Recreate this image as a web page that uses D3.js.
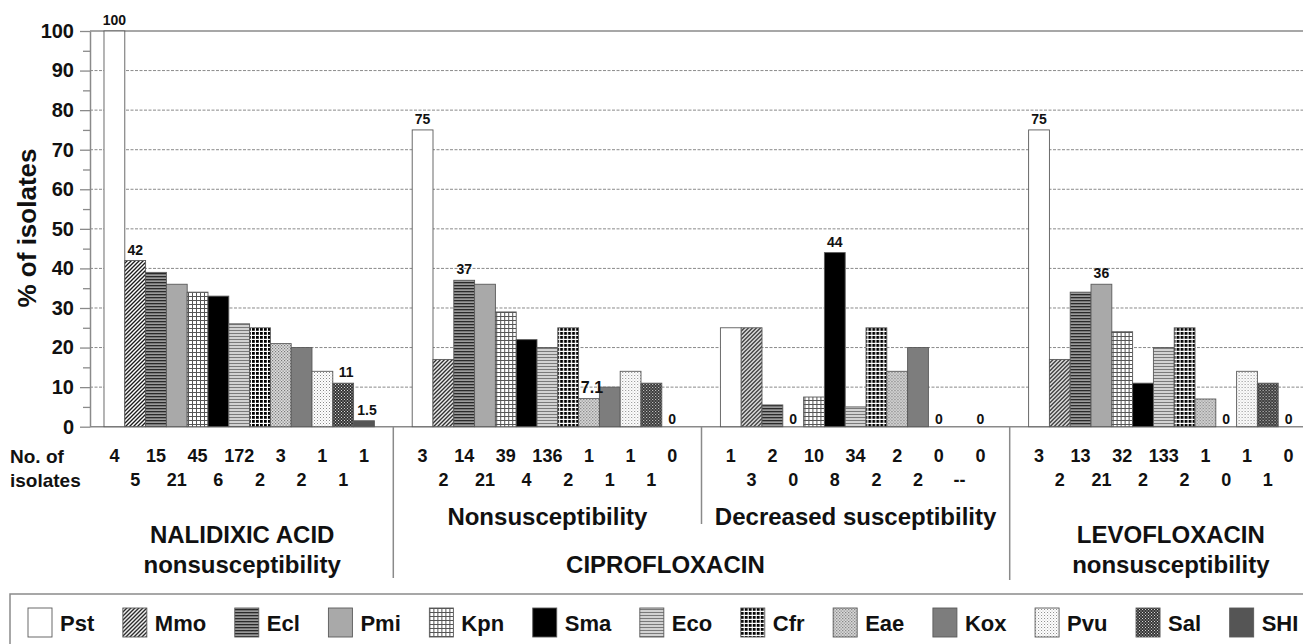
<!DOCTYPE html>
<html>
<head>
<meta charset="utf-8">
<script src="https://cdn.jsdelivr.net/npm/d3@7"></script>
<style>
  body { margin: 0; background: #fff; }
  text { font-family: "Liberation Sans", Arial, sans-serif; font-weight: bold; fill: #111; }
</style>
</head>
<body>
<div class="chart"></div>
<script>
// Data

var species = ["Pst", "Mmo", "Ecl", "Pmi", "Kpn", "Sma", "Eco", "Cfr", "Eae", "Kox", "Pvu", "Sal", "SHI"];
var groups = ["nal", "cipNS", "cipDS", "levo"];

var nalidixic = [100, 42, 39, 36, 34, 33, 26, 25, 21, 20, 14, 11, 1.5];
var cipNonsusc = [75, 17, 37, 36, 29, 22, 20, 25, 7.1, 10, 14, 11, 0];
var cipDecreased = [25, 25, 5.5, 0, 7.5, 44, 5, 25, 14, 20, 0, null, 0];
var levofloxacin = [75, 17, 34, 36, 24, 11, 20, 25, 7, 0, 14, 11, 0];

var nalCounts = [4, 5, 15, 21, 45, 6, 172, 2, 3, 2, 1, 1, 1];
var cipNSCounts = [3, 2, 14, 21, 39, 4, 136, 2, 1, 1, 1, 1, 0];
var cipDSCounts = [1, 3, 2, 0, 10, 8, 34, 2, 2, 2, 0, "--", 0];
var levoCounts = [3, 2, 13, 21, 32, 2, 133, 2, 1, 0, 1, 1, 0];

// which bars carry a value label
var nalLabels = ["Pst", "Mmo", "Sal", "SHI"];
var cipNSLabels = ["Pst", "Ecl", "Eae", "SHI"];
var cipDSLabels = ["Pmi", "Sma", "Pvu", "SHI"];
var levoLabels = ["Pst", "Pmi", "Kox", "SHI"];

var yTicks = [0, 10, 20, 30, 40, 50, 60, 70, 80, 90, 100];

var values = {nal: nalidixic, cipNS: cipNonsusc, cipDS: cipDecreased, levo: levofloxacin};
var counts = {nal: nalCounts, cipNS: cipNSCounts, cipDS: cipDSCounts, levo: levoCounts};
var labelled = {nal: nalLabels, cipNS: cipNSLabels, cipDS: cipDSLabels, levo: levoLabels};

var width = 1303, height = 644;
var axisX = 90, rightEdge = 1303;

var svg = d3.select('.chart')
    .append('svg')
        .attr('width', width)
        .attr('height', height)
        .style('display', 'block');

// ---- fill patterns
var defs = svg.append("defs");
function pattern(id, w, h, bg, draw) {
    var p = defs.append("pattern")
        .attr("id", id)
        .attr("patternUnits", "userSpaceOnUse")
        .attr("width", w)
        .attr("height", h);
    p.append("rect").attr("width", w).attr("height", h).attr("fill", bg);
    if (draw) draw(p);
}
pattern("p-mmo", 4, 4, "#fff", function(p) {
    p.append("path").attr("d", "M-1,1L1,-1M0,4L4,0M3,5L5,3")
        .attr("stroke", "#1a1a1a").attr("stroke-width", 1.35);
});
pattern("p-ecl", 4, 3, "#9a9a9a", function(p) {
    p.append("rect").attr("width", 4).attr("height", 1.3).attr("fill", "#2a2a2a");
});
pattern("p-kpn", 4, 4, "#fff", function(p) {
    p.append("path").attr("d", "M0,0.5H4M0.5,0V4")
        .attr("stroke", "#555").attr("stroke-width", 1);
});
pattern("p-eco", 4, 3, "#d2d2d2", function(p) {
    p.append("rect").attr("width", 4).attr("height", 1).attr("fill", "#7a7a7a");
});
pattern("p-cfr", 4, 4, "#fff", function(p) {
    p.append("rect").attr("width", 2.8).attr("height", 2.8).attr("fill", "#000");
});
pattern("p-eae", 3, 3, "#dedede", function(p) {
    p.append("rect").attr("width", 1.2).attr("height", 1.2).attr("fill", "#777");
    p.append("rect").attr("x", 1.5).attr("y", 1.5).attr("width", 1.2).attr("height", 1.2).attr("fill", "#777");
});
pattern("p-pvu", 3, 3, "#fff", function(p) {
    p.append("rect").attr("width", 1).attr("height", 1).attr("fill", "#888");
    p.append("rect").attr("x", 1.5).attr("y", 1.5).attr("width", 1).attr("height", 1).attr("fill", "#bbb");
});
pattern("p-sal", 3, 3, "#333", function(p) {
    p.append("rect").attr("width", 1).attr("height", 1).attr("fill", "#ddd");
    p.append("rect").attr("x", 1.5).attr("y", 1.5).attr("width", 1).attr("height", 1).attr("fill", "#ddd");
});

var fills = {
    Pst: "#fff", Mmo: "url(#p-mmo)", Ecl: "url(#p-ecl)", Pmi: "#a9a9a9",
    Kpn: "url(#p-kpn)", Sma: "#000", Eco: "url(#p-eco)", Cfr: "url(#p-cfr)",
    Eae: "url(#p-eae)", Kox: "#7d7d7d", Pvu: "url(#p-pvu)", Sal: "url(#p-sal)", SHI: "#555"
};

// ---- scales
var y = d3.scaleLinear()
    .domain([0, 100])
    .range([426.7, 31]);

var x0 = d3.scaleBand()
    .domain(groups)
    .range([85.1, 1317.9])
    .paddingInner(0.1227)
    .paddingOuter(0.0613);

var x1 = d3.scaleBand()
    .domain(species)
    .range([0, x0.bandwidth()]);

// ---- grid
var grid = svg.append("g");
grid.selectAll("line")
    .data(yTicks)
    .enter()
        .append("line")
        .attr("x1", axisX)
        .attr("x2", rightEdge)
        .attr("y1", function(d) { return y(d); })
        .attr("y2", function(d) { return y(d); })
        .attr("stroke", function(d) { return (d === 0 || d === 100) ? "#8a8a8a" : "#8a8a8a"; })
        .attr("stroke-width", function(d) { return (d === 0 || d === 100) ? 1.5 : 1; })
        .attr("stroke-dasharray", function(d) { return (d === 0 || d === 100) ? null : "3,1.5"; });

// ---- y axis
var yAxis = svg.append("g")
    .attr("transform", "translate(" + axisX + ",0)")
    .call(d3.axisLeft(y).tickValues(yTicks).tickSize(10).tickSizeOuter(0).tickPadding(6));
yAxis.selectAll("text").style("font-size", "20px").attr("fill", "#111");
yAxis.selectAll("line").attr("stroke", "#8a8a8a").attr("stroke-width", 1.3);
yAxis.select(".domain").attr("stroke", "#8a8a8a").attr("stroke-width", 1.5);

var yMinor = svg.append("g")
    .attr("transform", "translate(" + axisX + ",0)")
    .call(d3.axisLeft(y).tickValues(d3.range(5, 100, 10)).tickSize(7).tickFormat(""));
yMinor.selectAll("line").attr("stroke", "#8a8a8a").attr("stroke-width", 1.3);
yMinor.select(".domain").remove();

svg.append("text")
    .attr("transform", "translate(36,228) rotate(-90)")
    .attr("text-anchor", "middle")
    .style("font-size", "26px")
    .text("% of isolates");

// ---- bars
var groupG = svg.selectAll(".grp")
    .data(groups)
    .enter()
    .append("g")
        .attr("class", "grp")
        .attr("transform", function(g) { return "translate(" + x0(g) + ",0)"; });

groupG.selectAll("rect")
    .data(function(g) {
        return species.map(function(s, i) { return {s: s, v: values[g][i]}; })
            .filter(function(d) { return d.v !== null && d.v > 0; });
    })
    .enter()
        .append("rect")
        .attr("x", function(d) { return x1(d.s); })
        .attr("width", x1.bandwidth())
        .attr("y", function(d) { return y(d.v); })
        .attr("height", function(d) { return y(0) - y(d.v); })
        .attr("fill", function(d) { return fills[d.s]; })
        .attr("stroke", "#5a5a5a")
        .attr("stroke-width", 0.9);

groupG.selectAll(".vlab")
    .data(function(g) {
        return species.map(function(s, i) { return {s: s, v: values[g][i]}; })
            .filter(function(d) { return labelled[g].indexOf(d.s) >= 0; });
    })
    .enter()
        .append("text")
        .attr("class", "vlab")
        .attr("x", function(d) { return x1(d.s) + x1.bandwidth() / 2 + (d.v < 20 && d.v > 0 ? 3 : 0); })
        .attr("y", function(d) { return d.v === 0 ? y(0) - 3 : y(d.v) - 6; })
        .attr("text-anchor", "middle")
        .style("font-size", function(d) { return d.v === 7.1 ? "16px" : "14px"; })
        .text(function(d) { return d.v; });

// ---- number of isolates table
svg.append("text").attr("x", 10).attr("y", 463).style("font-size", "19px").text("No. of");
svg.append("text").attr("x", 10).attr("y", 487).style("font-size", "19px").text("isolates");

groupG.selectAll(".cnt")
    .data(function(g) {
        return species.map(function(s, i) { return {s: s, n: counts[g][i], row: i % 2}; });
    })
    .enter()
        .append("text")
        .attr("class", "cnt")
        .attr("x", function(d) { return x1(d.s) + x1.bandwidth() / 2; })
        .attr("y", function(d) { return d.row === 0 ? 462 : 486; })
        .attr("text-anchor", "middle")
        .style("font-size", "18px")
        .text(function(d) { return d.n; });

// ---- separators between the panels
var sepData = [
    {x: (x0("nal") + x0.bandwidth() + x0("cipNS")) / 2, bottom: 578},
    {x: (x0("cipNS") + x0.bandwidth() + x0("cipDS")) / 2, bottom: 524},
    {x: (x0("cipDS") + x0.bandwidth() + x0("levo")) / 2, bottom: 580}
];
svg.selectAll(".sep")
    .data(sepData)
    .enter()
        .append("line")
        .attr("x1", function(d) { return d.x; })
        .attr("x2", function(d) { return d.x; })
        .attr("y1", y(0))
        .attr("y2", function(d) { return d.bottom; })
        .attr("stroke", "#8a8a8a")
        .attr("stroke-width", 1.5);

// ---- panel titles
var gc = function(g) { return x0(g) + x0.bandwidth() / 2; };
var titles = [
    {t: "NALIDIXIC ACID", x: gc("nal") + 3, y: 543},
    {t: "nonsusceptibility", x: gc("nal") + 3, y: 573},
    {t: "Nonsusceptibility", x: gc("cipNS"), y: 525},
    {t: "Decreased susceptibility", x: gc("cipDS"), y: 525},
    {t: "CIPROFLOXACIN", x: gc("cipNS") + 118, y: 573},
    {t: "LEVOFLOXACIN", x: gc("levo") + 7, y: 543},
    {t: "nonsusceptibility", x: gc("levo") + 7, y: 573}
];
svg.selectAll(".ttl")
    .data(titles)
    .enter()
        .append("text")
        .attr("class", "ttl")
        .attr("x", function(d) { return d.x; })
        .attr("y", function(d) { return d.y; })
        .attr("text-anchor", "middle")
        .style("font-size", "24px")
        .text(function(d) { return d.t; });

// ---- legend
svg.append("rect")
    .attr("x", 10).attr("y", 594)
    .attr("width", 1310).attr("height", 70)
    .attr("fill", "none")
    .attr("stroke", "#8a8a8a")
    .attr("stroke-width", 1.5);

var legend = svg.append("g");
var lx = 28;
species.forEach(function(s) {
    var item = legend.append("g").attr("transform", "translate(" + lx + ",0)");
    item.append("rect")
        .attr("x", 0).attr("y", 608)
        .attr("width", 24).attr("height", 29)
        .attr("fill", fills[s])
        .attr("stroke", "#5a5a5a")
        .attr("stroke-width", 0.9);
    var t = item.append("text")
        .attr("x", 32).attr("y", 631)
        .style("font-size", "22px")
        .text(s);
    lx += 32 + t.node().getComputedTextLength() + 28.6;
});
</script>
</body>
</html>
